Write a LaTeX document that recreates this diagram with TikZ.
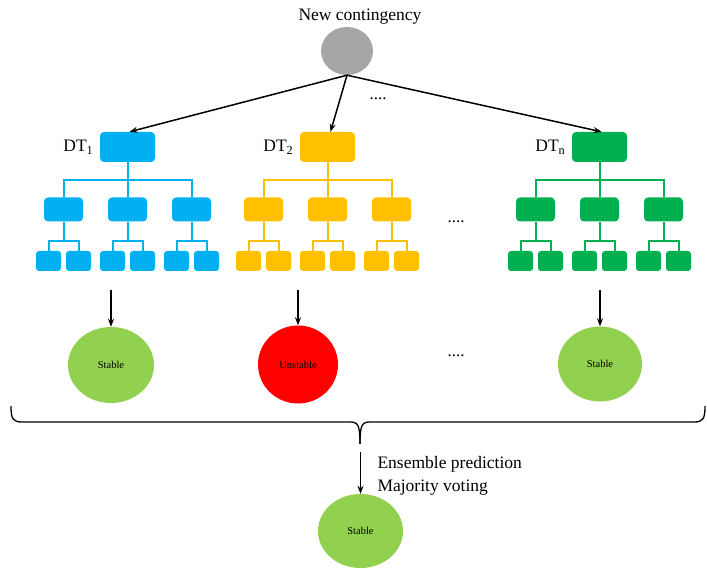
\documentclass[tikz,border=0pt]{standalone}
\usepackage{fontspec}
\setmainfont{Liberation Serif}
\usetikzlibrary{arrows.meta,shapes.geometric}

\definecolor{dtblue}{HTML}{00B0F0}
\definecolor{dtgold}{HTML}{FFC000}
\definecolor{dtgreen}{HTML}{00B050}
\definecolor{okgreen}{HTML}{92D050}
\definecolor{badred}{HTML}{FF0000}
\definecolor{inputgray}{HTML}{A6A6A6}

\tikzset{
  topbox/.style={rectangle, rounded corners=4pt, minimum width=55pt, minimum height=30pt, inner sep=0pt},
  midbox/.style={rectangle, rounded corners=4pt, minimum width=39pt, minimum height=24pt, inner sep=0pt},
  leafbox/.style={rectangle, rounded corners=3pt, minimum width=25pt, minimum height=20pt, inner sep=0pt},
  link/.style={line width=2pt},
  arr/.style={line width=1.5pt, -{Stealth[length=8pt,width=6pt]}},
  outcome/.style={ellipse, inner sep=0pt, font=\fontsize{10.5}{12}\selectfont},
  big/.style={font=\fontsize{17.5}{23}\selectfont},
  dots/.style={font=\fontsize{17}{18}\selectfont},
}

% one decision tree: #1 name prefix, #2 colour, #3 x of the root
\newcommand{\dectree}[3]{%
  \node[topbox, fill=#2] (#1) at (#3,147) {};
  \foreach \k/\dx in {1/-64, 2/0, 3/64} {
    \node[midbox, fill=#2] (#1m\k) at (#3+\dx,209.5) {};
    \node[leafbox, fill=#2] (#1m\k a) at (#3+\dx-15,261) {};
    \node[leafbox, fill=#2] (#1m\k b) at (#3+\dx+15,261) {};
    \draw[link, draw=#2] (#1m\k.south) -- ++(0,20);
    \draw[link, draw=#2] (#1m\k a.north) -- ++(0,-10) -| (#1m\k b.north);
  }
  \draw[link, draw=#2] (#1.south) -- (#1m2.north);
  \draw[link, draw=#2] (#1m1.north) -- ++(0,-17) -| (#1m3.north);
}

\begin{document}
\begin{tikzpicture}[x=1pt, y=-1pt]
  \useasboundingbox (0,0) rectangle (707,569);

  % incoming case
  \node[big] (title) at (360,17) {New contingency};
  \node[ellipse, fill=inputgray, minimum width=52pt, minimum height=48pt, inner sep=0pt] (input) at (347,51) {};

  % the trees of the forest
  \dectree{dta}{dtblue}{127.5}
  \dectree{dtb}{dtgold}{327.5}
  \dectree{dtc}{dtgreen}{599.5}

  \node[big, anchor=east] (la) at (dta.west) {DT\textsubscript{1}\,};
  \node[big, anchor=east] (lb) at (dtb.west) {DT\textsubscript{2}\,};
  \node[big, anchor=east] (lc) at (dtc.west) {DT\textsubscript{n}\,};

  \draw[arr] (input.south) -- ([xshift=2pt]dta.north);
  \draw[arr] (input.south) -- ([xshift=3pt]dtb.north);
  \draw[arr] (input.south) -- ([xshift=2pt]dtc.north);

  \node[dots] (d1) at (378,99) {....};
  \node[dots] (d2) at (456,222) {....};

  % individual votes
  \node[outcome, fill=okgreen, minimum width=86pt, minimum height=76pt] (va) at (111,365) {Stable};
  \node[outcome, fill=badred, minimum width=80pt, minimum height=78pt] (vb) at (298,364.5) {Unstable};
  \node[outcome, fill=okgreen, minimum width=84pt, minimum height=75pt] (vc) at (600,364) {Stable};
  \node[dots] (d3) at (456,356) {....};

  \coordinate (sa) at (111,290);
  \coordinate (sb) at (298,290);
  \coordinate (sc) at (600,290);
  \draw[arr] (sa) -- (va.north);
  \draw[arr] (sb) -- (vb.north);
  \draw[arr] (sc) -- (vc.north);

  % gathering brace
  \coordinate (bl) at (11,406);
  \coordinate (br) at (705,406);
  \coordinate (tip) at (360,444);
  \draw[line width=1.3pt] (bl) .. controls (11,419) and (13,422) .. (22,422)
    -- (350,422) .. controls (358,422) and (360,425) .. (tip);
  \draw[line width=1.3pt] (tip) .. controls (360,425) and (362,422) .. (370,422)
    -- (694,422) .. controls (703,422) and (705,419) .. (br);

  % combined decision
  \node[outcome, fill=okgreen, minimum width=85pt, minimum height=74pt] (final) at (360.5,531) {Stable};
  \coordinate (fs) at (360.5,452);
  \draw[arr] (fs) -- (final.north);
  \node[big, anchor=west, align=left] (vote) at (374,476) {Ensemble prediction\\Majority voting};
\end{tikzpicture}
\end{document}
